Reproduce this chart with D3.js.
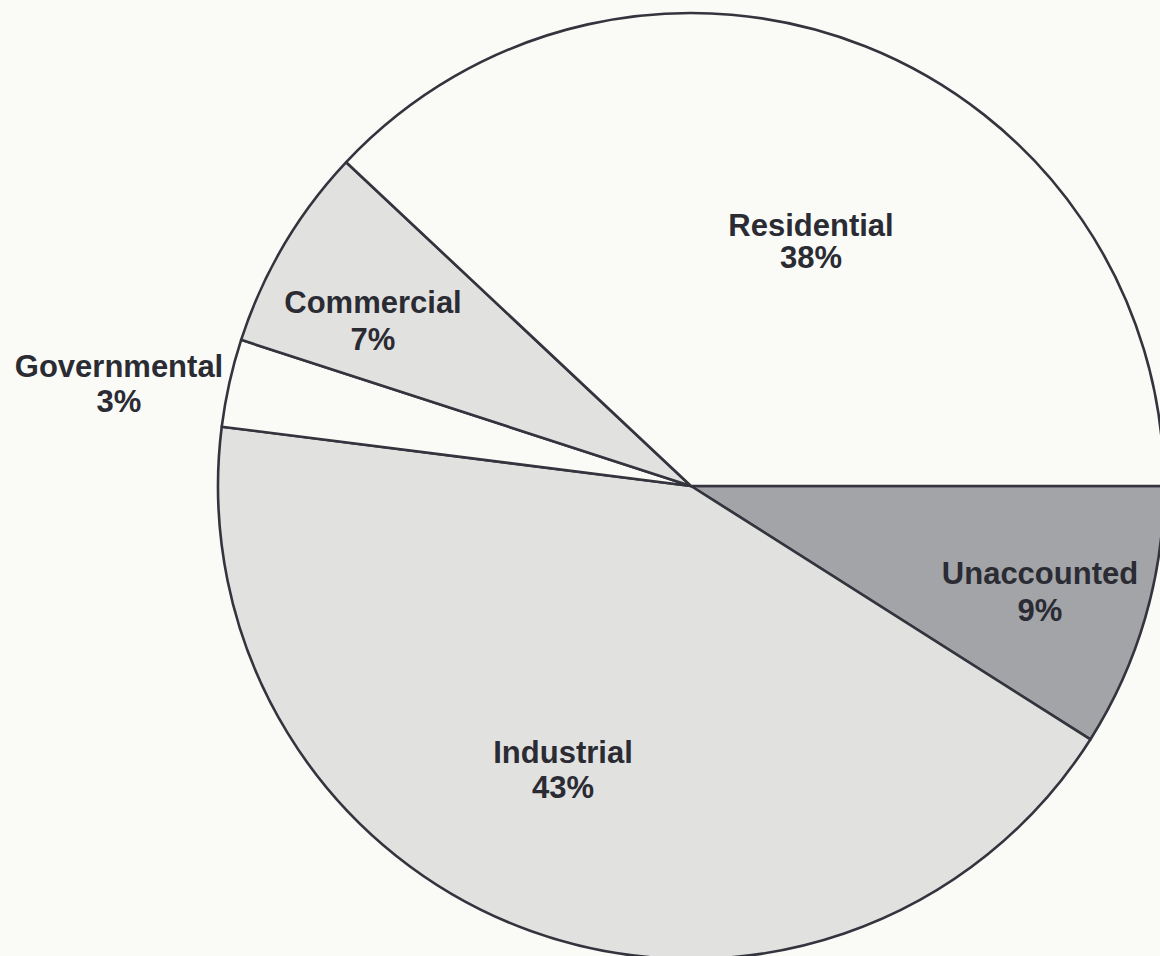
<!DOCTYPE html>
<html>
<head>
<meta charset="utf-8">
<script src="https://cdn.jsdelivr.net/npm/d3@7/dist/d3.min.js"></script>
<style>
  html, body { margin: 0; padding: 0; background: #fafbf6; }
  svg { display: block; }
  text { font-family: "Liberation Sans", Arial, Helvetica, sans-serif; font-weight: bold; }
</style>
</head>
<body>
<svg id="chart" width="1160" height="956"></svg>
<script>
// Share of use by sector, in percent, clockwise from 3 o'clock
const categories = ["Unaccounted", "Industrial", "Governmental", "Commercial", "Residential"];
const shares = [9, 43, 3, 7, 38];
const fills = ["#a2a4a8", "#e1e2e0", "#fafbf6", "#e1e2e0", "#fafbf6"];

// Label anchor (centre x, first baseline) relative to pie centre
const labelOffsets = [
  [349, 98], [-128, 277], [-572, -109], [-318, -173], [120, -250]
];
const lineGaps = [37, 35, 35, 37, 32];

const width = 1160, height = 956;
const cx = 691, cy = 486, radius = 473;

const svg = d3.select("#chart");
svg.append("rect").attr("width", width).attr("height", height).attr("fill", "#fafbf6");

const data = categories.map((c, i) => ({ name: c, value: shares[i], fill: fills[i], off: labelOffsets[i], gap: lineGaps[i] }));

const pie = d3.pie()
  .value(d => d.value)
  .sort(null)
  .startAngle(Math.PI / 2)
  .endAngle(Math.PI / 2 + 2 * Math.PI);

const arc = d3.arc().innerRadius(0).outerRadius(radius);

const g = svg.append("g").attr("transform", `translate(${cx},${cy})`);

g.selectAll("path.slice")
  .data(pie(data))
  .join("path")
  .attr("class", "slice")
  .attr("d", arc)
  .attr("fill", d => d.data.fill)
  .attr("stroke", "#34343e")
  .attr("stroke-width", 2.6)
  .attr("stroke-linejoin", "round");

const labels = g.selectAll("text.label")
  .data(pie(data))
  .join("text")
  .attr("class", "label")
  .attr("text-anchor", "middle")
  .attr("fill", "#2b2b34")
  .attr("font-size", 31);

labels.append("tspan")
  .attr("x", d => d.data.off[0])
  .attr("y", d => d.data.off[1])
  .text(d => d.data.name);

labels.append("tspan")
  .attr("x", d => d.data.off[0])
  .attr("y", d => d.data.off[1] + d.data.gap)
  .text(d => d.data.value + "%");
</script>
</body>
</html>
